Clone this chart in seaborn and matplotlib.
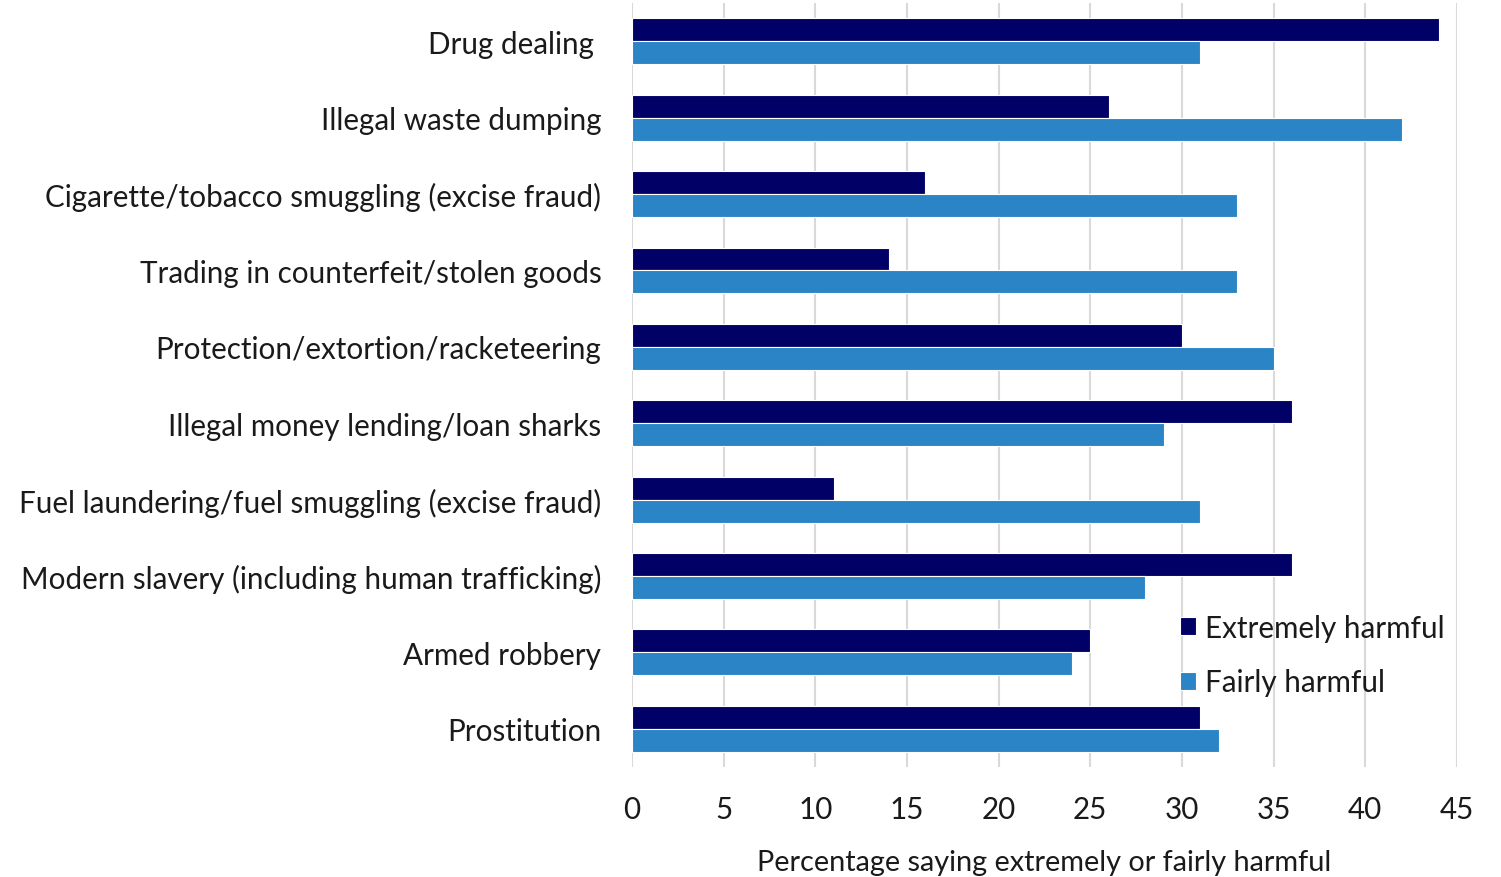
import matplotlib
matplotlib.use("Agg")
import matplotlib.pyplot as plt
import seaborn as sns
import pandas as pd

categories = [
    "Drug dealing ",
    "Illegal waste dumping",
    "Cigarette/tobacco smuggling (excise fraud)",
    "Trading in counterfeit/stolen goods",
    "Protection/extortion/racketeering",
    "Illegal money lending/loan sharks",
    "Fuel laundering/fuel smuggling (excise fraud)",
    "Modern slavery (including human trafficking)",
    "Armed robbery",
    "Prostitution",
]
extremely_harmful = [44, 26, 16, 14, 30, 36, 11, 36, 25, 31]
fairly_harmful = [31, 42, 33, 33, 35, 29, 31, 28, 24, 32]
series_names = ["Extremely harmful", "Fairly harmful"]
x_ticks = [0, 5, 10, 15, 20, 25, 30, 35, 40, 45]

df = pd.DataFrame({
    "Crime": categories * 2,
    "Series": [series_names[0]] * len(categories) + [series_names[1]] * len(categories),
    "Value": extremely_harmful + fairly_harmful,
})

sns.set_theme(style="white")
plt.rcParams["font.family"] = ["Lato", "DejaVu Sans"]
FS = 21.3

fig = plt.figure(figsize=(15.01, 8.78), dpi=100)
ax = fig.add_axes([0.421, 0.1253, 0.5497, 0.8701])

sns.barplot(
    data=df, y="Crime", x="Value", hue="Series", order=categories,
    hue_order=series_names, palette=["#000066", "#2a84c6"],
    width=0.6, orient="h", ax=ax, edgecolor="white", linewidth=0.8,
    saturation=1,
)

ax.set_xlim(0, 45)
ax.set_ylim(9.5, -0.5)
ax.set_xticks(x_ticks)
ax.xaxis.grid(True, color="#d9d9d9", linewidth=1.5)
ax.set_axisbelow(True)
for s in ax.spines.values():
    s.set_visible(False)
ax.tick_params(axis="y", length=0, pad=22, labelsize=FS, labelcolor="#1a1a1a")
ax.tick_params(axis="x", length=0, pad=20, labelsize=FS, labelcolor="#1a1a1a")
ax.set_ylabel("")
ax.set_xlabel("Percentage saying extremely or fairly harmful", fontsize=20.8,
              color="#1a1a1a", labelpad=19)

leg = ax.legend(
    loc="upper left", bbox_to_anchor=(1153 / 1501, 1 - 588 / 878),
    bbox_transform=fig.transFigure, frameon=False, fontsize=FS,
    handlelength=0.55, handleheight=0.55, handletextpad=0.3, labelspacing=0.9,
)
for t in leg.get_texts():
    t.set_color("#1a1a1a")

fig.savefig("out.png", dpi=100)
